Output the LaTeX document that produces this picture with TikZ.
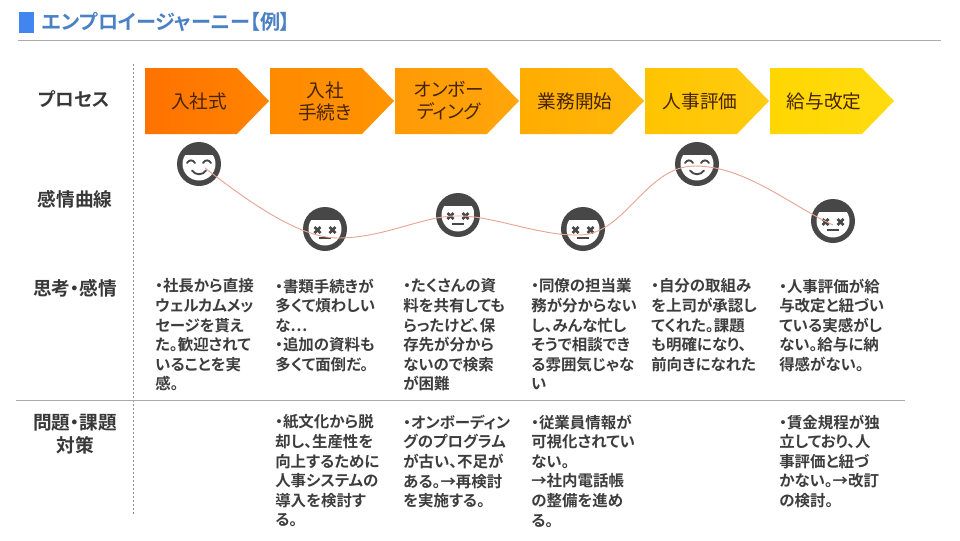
\documentclass[tikz,border=0pt]{standalone}
\usepackage{fontspec}
\setmainfont{Noto Sans CJK JP}[RawFeature=+palt,BoldFont={Noto Sans CJK JP Bold}]
\newcommand{\dt}{\makebox[0.5em][c]{・}}
\tikzset{
  x=0.75pt,y=-0.75pt,
  rulegray/.style={draw=black!33,line width=0.75pt},
  vdash/.style={draw=black!45,line width=0.5pt,dash pattern=on 1.5pt off 1.5pt},
  lane/.style={font=\fontsize{14}{17}\selectfont\bfseries,text=black!78,align=center,inner sep=0pt},
  chevlabel/.style={font=\fontsize{14}{16.5}\selectfont,text=black!72!orange,align=center,inner sep=0pt},
  body/.style={font=\fontsize{11.6}{14.7}\selectfont\bfseries,text=black!76,align=left,anchor=north west,inner sep=0pt},
  facedisc/.style={circle,fill=black!72,minimum size=33pt,inner sep=0pt},
  facemark/.style={draw=black!72,line width=1.4pt,line cap=round},
  xmark/.style={draw=black!72,line width=1.9pt},
  curveline/.style={draw=curvepink,line width=0.7pt},
  happyface/.pic={
    \begin{scope}
      \clip (0,0) circle (16.5);
      \fill[white] (-17,-9) rectangle (17,17);
    \end{scope}
    \draw[facemark] (-12,-1) .. controls (-10,-4.5) and (-6,-4.5) .. (-4,-1);
    \draw[facemark] (4,-1) .. controls (6,-4.5) and (10,-4.5) .. (12,-1);
    \draw[facemark] (-7,6.5) .. controls (-3.5,11.5) and (3.5,11.5) .. (7,6.5);
  },
  deadface/.pic={
    \begin{scope}
      \clip (0,0) circle (16.5);
      \fill[white] (-17,-9) rectangle (17,17);
    \end{scope}
    \draw[xmark] (-10.5,-2) -- (-4.5,4) (-10.5,4) -- (-4.5,-2);
    \draw[xmark] (4.5,-2) -- (10.5,4) (4.5,4) -- (10.5,-2);
    \draw[draw=black!72,line width=1.5pt] (-6,9) -- (6,9);
  },
}
\newcommand{\chev}[6]{%
  \shade[left color=#2,right color=#3] (#1,68) -- ({#1+92},68) -- ({#1+124},101) -- ({#1+92},134) -- (#1,134) -- cycle;
  \node[chevlabel] (#4) at ({#1+#5},101) {#6};
}
\definecolor{curvepink}{HTML}{E8A595}
\definecolor{c1a}{HTML}{FF7200}\definecolor{c1b}{HTML}{FF8400}
\definecolor{c2a}{HTML}{FF8A00}\definecolor{c2b}{HTML}{FF9400}
\definecolor{c3a}{HTML}{FF9A06}\definecolor{c3b}{HTML}{FFA60A}
\definecolor{c4a}{HTML}{FFAC00}\definecolor{c4b}{HTML}{FFB80A}
\definecolor{c5a}{HTML}{FFC400}\definecolor{c5b}{HTML}{FFCC10}
\definecolor{c6a}{HTML}{FFD600}\definecolor{c6b}{HTML}{FFDC10}
\definecolor{titleblue}{HTML}{4A80C4}
\definecolor{squareblue}{HTML}{4285F0}
\begin{document}
\begin{tikzpicture}
\useasboundingbox (0,0) rectangle (960,540);
\fill[white] (0,0) rectangle (960,540);
% title
\fill[squareblue] (19,12) rectangle (34,33);
\node[anchor=west,inner sep=0pt,text=titleblue,font=\fontsize{15.1}{18}\selectfont\bfseries] (title) at (42,22) {エンプロイージャーニー【例】};
\draw[rulegray] (18,40.5) -- (941,40.5);
% frame
\draw[vdash] (133.5,64) -- (133.5,515);
\draw[rulegray] (16,400.5) -- (905,400.5);
% lanes
\node[lane] (l1) at (74,99) {プロセス};
\node[lane] (l2) at (75,199) {感情曲線};
\node[lane] (l3) at (75,288) {思考\dt 感情};
\node[lane] (l4) at (75,434.5) {問題\dt 課題\\対策};
% chevrons
\chev{145}{c1a}{c1b}{s1}{54}{入社式}
\chev{270}{c2a}{c2b}{s2}{55}{入社\\手続き}
\chev{395}{c3a}{c3b}{s3}{54}{オンボー\\ディング}
\chev{520}{c4a}{c4b}{s4}{55}{業務開始}
\chev{645}{c5a}{c5b}{s5}{55}{人事評価}
\chev{770}{c6a}{c6b}{s6}{54}{給与改定}
% faces
\node[facedisc] (f1) at (199,164) {}; \pic at (f1) {happyface};
\node[facedisc] (f2) at (325,229) {}; \pic at (f2) {deadface};
\node[facedisc] (f3) at (458,215) {}; \pic at (f3) {deadface};
\node[facedisc] (f4) at (583,229) {}; \pic at (f4) {deadface};
\node[facedisc] (f5) at (697,164) {}; \pic at (f5) {happyface};
\node[facedisc] (f6) at (833,221) {}; \pic at (f6) {deadface};
% curve
\coordinate (c1) at ([shift={(6,4)}]f1.center);
\coordinate (c2) at ([shift={(13,9)}]f2.center);
\coordinate (c3) at ([shift={(0,1)}]f3.center);
\coordinate (c4) at ([shift={(-5,6)}]f4.center);
\coordinate (c5) at ([shift={(-2,2)}]f5.center);
\coordinate (c6) at ([shift={(0,4)}]f6.center);
\draw[curveline] (c1) .. controls (250,203) and (300,238) .. (c2)
  .. controls (385,238) and (425,215) .. (c3)
  .. controls (490,215) and (540,236) .. (c4)
  .. controls (625,236) and (645,166) .. (c5)
  .. controls (745,166) and (790,205) .. (c6);
% row 1
\node[body] (t1) at (155,278.5) {\dt 社長から直接\\ウェルカムメッ\\セージを貰え\\た。歓迎されて\\いることを実\\感。};
\node[body] (t2) at (275,278.5) {\dt 書類手続きが\\多くて煩わしい\\な…\\\dt 追加の資料も\\多くて面倒だ。};
\node[body] (t3) at (403,278.5) {\dt たくさんの資\\料を共有しても\\らったけど、保\\存先が分から\\ないので検索\\が困難};
\node[body] (t4) at (531,278.5) {\dt 同僚の担当業\\務が分からない\\し、みんな忙し\\そうで相談でき\\る雰囲気じゃな\\い};
\node[body] (t5) at (651,278.5) {\dt 自分の取組み\\を上司が承認し\\てくれた。課題\\も明確になり、\\前向きになれた};
\node[body] (t6) at (779,278.5) {\dt 人事評価が給\\与改定と紐づい\\ている実感がし\\ない。給与に納\\得感がない。};
% row 2
\node[body] (u2) at (275,414.5) {\dt 紙文化から脱\\却し、生産性を\\向上するために\\人事システムの\\導入を検討す\\る。};
\node[body] (u3) at (403,414.5) {\dt オンボーディン\\グのプログラム\\が古い、不足が\\ある。→再検討\\を実施する。};
\node[body] (u4) at (531,414.5) {\dt 従業員情報が\\可視化されてい\\ない。\\→社内電話帳\\の整備を進め\\る。};
\node[body] (u6) at (779,414.5) {\dt 賃金規程が独\\立しており、人\\事評価と紐づ\\かない。→改訂\\の検討。};
\end{tikzpicture}
\end{document}
